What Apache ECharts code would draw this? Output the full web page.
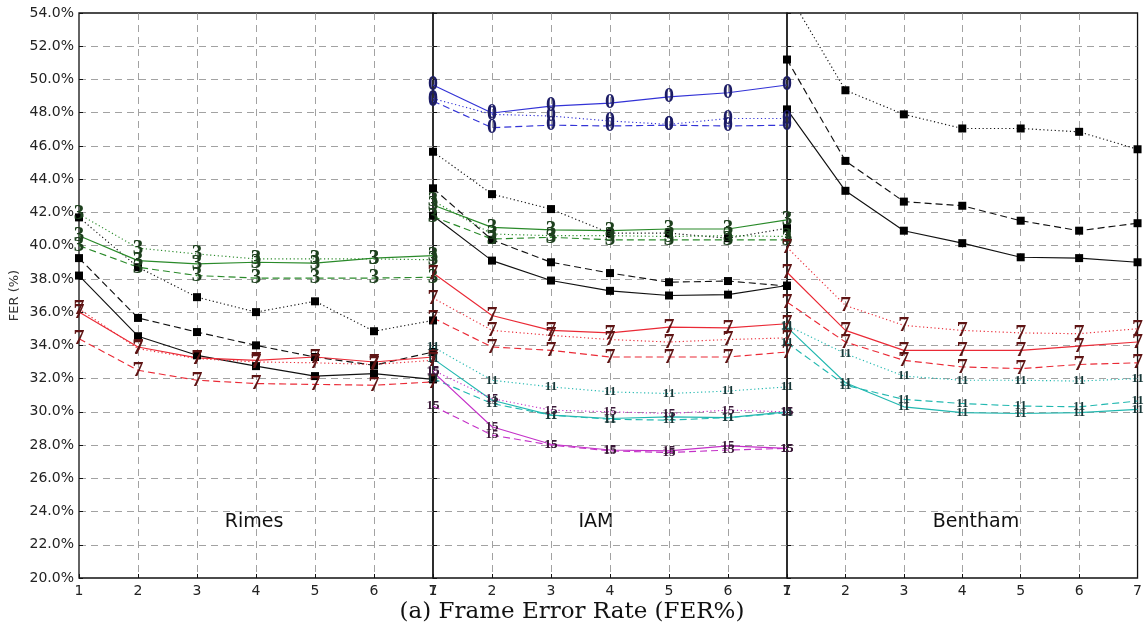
<!DOCTYPE html>
<html>
<head>
<meta charset="utf-8">
<script src="https://cdn.jsdelivr.net/npm/echarts@6/dist/echarts.min.js"></script>
<style>
html,body{margin:0;padding:0;background:#fff;}
#chart{width:1145px;height:637px;}
</style>
</head>
<body>
<div id="chart"></div>
<script>
// ---- data ----
const xValues = [1, 2, 3, 4, 5, 6, 7];
const panelNames = ['Rimes', 'IAM', 'Bentham'];
const yTicks = [20, 54, 2]; // min, max, step (%)
const chartTitle = '(a) Frame Error Rate (FER%)';
const yAxisName = 'FER (%)';

// Rimes
const rimesGreenSolid  = [40.6, 39.1, 38.9, 39.0, 38.95, 39.25, 39.4];
const rimesGreenDotted = [41.9, 39.85, 39.5, 39.2, 39.2, 39.2, 39.15];
const rimesGreenDashed = [40.0, 38.7, 38.2, 38.05, 38.05, 38.05, 38.1];
const rimesBlackSolid  = [38.2, 34.55, 33.4, 32.75, 32.15, 32.3, 31.95];
const rimesBlackDashed = [39.25, 35.65, 34.8, 34.0, 33.3, 32.8, 33.6];
const rimesBlackDotted = [41.7, 38.7, 36.9, 36.0, 36.65, 34.85, 35.5];
const rimesRedSolid    = [36.0, 33.9, 33.25, 33.1, 33.3, 33.0, 33.3];
const rimesRedDotted   = [36.2, 33.8, 33.2, 33.0, 32.95, 32.85, 33.1];
const rimesRedDashed   = [34.4, 32.5, 31.9, 31.7, 31.65, 31.6, 31.8];

// IAM
const iamBlueSolid     = [49.67, 47.98, 48.4, 48.58, 48.95, 49.2, 49.67];
const iamBlueDotted    = [48.85, 47.9, 47.8, 47.5, 47.3, 47.65, 47.65];
const iamBlueDashed    = [48.7, 47.1, 47.25, 47.2, 47.25, 47.2, 47.25];
const iamGreenSolid    = [42.45, 41.1, 40.95, 40.9, 41.0, 41.0, 41.55];
const iamGreenDotted   = [42.7, 40.7, 40.6, 40.6, 40.55, 40.6, 40.55];
const iamGreenDashed   = [41.75, 40.4, 40.5, 40.35, 40.35, 40.35, 40.35];
const iamBlackSolid    = [41.8, 39.1, 37.9, 37.28, 37.0, 37.05, 37.6];
const iamBlackDashed   = [43.45, 40.35, 39.0, 38.35, 37.8, 37.87, 37.57];
const iamBlackDotted   = [45.65, 43.1, 42.2, 40.75, 40.75, 40.45, 41.05];
const iamRedSolid      = [38.35, 35.8, 34.9, 34.75, 35.1, 35.05, 35.3];
const iamRedDotted     = [36.85, 34.9, 34.6, 34.35, 34.2, 34.35, 34.45];
const iamRedDashed     = [35.65, 33.9, 33.7, 33.3, 33.3, 33.3, 33.6];
const iamCyanSolid     = [33.2, 30.7, 29.8, 29.6, 29.7, 29.65, 30.0];
const iamCyanDotted    = [33.9, 31.9, 31.5, 31.2, 31.1, 31.25, 31.5];
const iamCyanDashed    = [32.0, 30.5, 29.8, 29.55, 29.5, 29.65, 29.95];
const iamMagentaSolid  = [32.4, 29.1, 28.05, 27.7, 27.65, 27.95, 27.8];
const iamMagentaDotted = [32.5, 30.8, 30.1, 30.0, 29.9, 30.1, 30.0];
const iamMagentaDashed = [30.35, 28.6, 28.0, 27.65, 27.55, 27.7, 27.8];

// Bentham
const benBlackSolid    = [48.2, 43.3, 40.9, 40.15, 39.3, 39.25, 39.0];
const benBlackDashed   = [51.2, 45.1, 42.65, 42.4, 41.5, 40.9, 41.35];
const benBlackDotted   = [55.3, 49.35, 47.9, 47.05, 47.05, 46.85, 45.8];
const benRedSolid      = [38.4, 34.9, 33.7, 33.7, 33.7, 33.95, 34.2];
const benRedDotted     = [39.9, 36.4, 35.2, 34.9, 34.75, 34.7, 35.0];
const benRedDashed     = [36.6, 34.2, 33.1, 32.7, 32.6, 32.85, 32.95];
const benCyanSolid     = [35.1, 31.75, 30.3, 29.95, 29.9, 29.95, 30.15];
const benCyanDotted    = [35.2, 33.5, 32.15, 31.9, 31.9, 31.85, 32.0];
const benCyanDashed    = [34.15, 31.6, 30.75, 30.5, 30.35, 30.3, 30.65];

// ---- styles ----
const STY = {
  black:   {line: '#111111', marker: 'square', mcol: '#000000', fs: 0},
  green:   {line: '#2a8a2a', marker: '3',  mcol: '#1d401d', fs: 21},
  blue:    {line: '#3333d6', marker: '0',  mcol: '#1c1c66', fs: 20},
  red:     {line: '#ea2a36', marker: '7',  mcol: '#5e1414', fs: 22},
  cyan:    {line: '#22b8b0', marker: '11', mcol: '#173838', fs: 13},
  magenta: {line: '#c431c8', marker: '15', mcol: '#3a1838', fs: 13}
};
const DASH = {solid: 'solid', dashed: [7, 4], dotted: [1.2, 2.6]};

function mk(panel, values, color, dash) {
  const s = STY[color];
  const isSq = s.marker === 'square';
  return {
    type: 'line',
    xAxisIndex: panel, yAxisIndex: panel,
    data: xValues.map((x, i) => [x, values[i]]),
    clip: true,
    symbol: isSq ? 'rect' : 'circle',
    symbolSize: isSq ? 8 : 0.5,
    showSymbol: true,
    itemStyle: {color: isSq ? s.mcol : 'rgba(0,0,0,0)'},
    lineStyle: {color: s.line, width: 1.15, type: DASH[dash]},
    label: isSq ? {show: false} : {
      show: true, position: 'inside', formatter: s.marker,
      fontFamily: 'Liberation Serif', fontWeight: 'bold',
      fontSize: s.fs, color: s.mcol
    },
    emphasis: {disabled: true},
    animation: false
  };
}

const series = [
  mk(0, rimesBlackSolid, 'black', 'solid'),
  mk(0, rimesBlackDashed, 'black', 'dashed'),
  mk(0, rimesBlackDotted, 'black', 'dotted'),
  mk(0, rimesGreenSolid, 'green', 'solid'),
  mk(0, rimesGreenDashed, 'green', 'dashed'),
  mk(0, rimesGreenDotted, 'green', 'dotted'),
  mk(0, rimesRedSolid, 'red', 'solid'),
  mk(0, rimesRedDashed, 'red', 'dashed'),
  mk(0, rimesRedDotted, 'red', 'dotted'),

  mk(1, iamBlueSolid, 'blue', 'solid'),
  mk(1, iamBlueDashed, 'blue', 'dashed'),
  mk(1, iamBlueDotted, 'blue', 'dotted'),
  mk(1, iamBlackSolid, 'black', 'solid'),
  mk(1, iamBlackDashed, 'black', 'dashed'),
  mk(1, iamBlackDotted, 'black', 'dotted'),
  mk(1, iamGreenSolid, 'green', 'solid'),
  mk(1, iamGreenDashed, 'green', 'dashed'),
  mk(1, iamGreenDotted, 'green', 'dotted'),
  mk(1, iamRedSolid, 'red', 'solid'),
  mk(1, iamRedDashed, 'red', 'dashed'),
  mk(1, iamRedDotted, 'red', 'dotted'),
  mk(1, iamCyanSolid, 'cyan', 'solid'),
  mk(1, iamCyanDashed, 'cyan', 'dashed'),
  mk(1, iamCyanDotted, 'cyan', 'dotted'),
  mk(1, iamMagentaSolid, 'magenta', 'solid'),
  mk(1, iamMagentaDashed, 'magenta', 'dashed'),
  mk(1, iamMagentaDotted, 'magenta', 'dotted'),

  mk(2, benBlackSolid, 'black', 'solid'),
  mk(2, benBlackDashed, 'black', 'dashed'),
  mk(2, benBlackDotted, 'black', 'dotted'),
  mk(2, benRedSolid, 'red', 'solid'),
  mk(2, benRedDashed, 'red', 'dashed'),
  mk(2, benRedDotted, 'red', 'dotted'),
  mk(2, benCyanSolid, 'cyan', 'solid'),
  mk(2, benCyanDashed, 'cyan', 'dashed'),
  mk(2, benCyanDotted, 'cyan', 'dotted')
];

const gridLefts = [79, 433, 787];
const gridWidths = [354, 354, 353];
const grids = gridLefts.map((l, i) => ({
  left: l, top: 13, width: gridWidths[i], bottom: 59,
  show: true, borderColor: '#111', borderWidth: 1.3,
  backgroundColor: 'transparent', containLabel: false
}));

const gridLine = {show: true, showMinLine: false, showMaxLine: false,
  lineStyle: {color: '#8a8a8a', width: 0.8, type: [7, 5]}};

const xAxes = [0, 1, 2].map(i => ({
  type: 'value', gridIndex: i, min: xValues[0], max: xValues[xValues.length - 1], interval: 1,
  axisLine: {show: false},
  axisTick: {show: true, inside: true, length: 4, lineStyle: {color: '#111'}},
  axisLabel: {show: true, showMinLabel: true, showMaxLabel: true, margin: 6,
    fontFamily: 'DejaVu Sans', fontSize: 14, color: '#222'},
  splitLine: gridLine
}));

const yAxes = [0, 1, 2].map(i => ({
  type: 'value', gridIndex: i, min: yTicks[0], max: yTicks[1], interval: yTicks[2],
  axisLine: {show: false},
  axisTick: {show: true, inside: true, length: 4, lineStyle: {color: '#111'}},
  axisLabel: {show: i === 0, margin: 5, fontFamily: 'DejaVu Sans', fontSize: 14, color: '#222',
    formatter: v => v.toFixed(1) + '%'},
  splitLine: gridLine,
  name: i === 0 ? yAxisName : '',
  nameLocation: 'middle', nameRotate: 90, nameGap: 58,
  nameTextStyle: {fontFamily: 'DejaVu Sans', fontSize: 13, color: '#333'}
}));

const panelTextX = [254, 596, 976];
const graphic = panelNames.map((n, i) => ({
  type: 'text', x: panelTextX[i], y: 522,
  style: {text: n, fontFamily: 'DejaVu Sans', fontSize: 19, fill: '#111',
    align: 'center', verticalAlign: 'middle'}
}));
graphic.push({
  type: 'text', x: 572, y: 612,
  style: {text: chartTitle, fontFamily: 'DejaVu Serif', fontSize: 23, fill: '#111',
    align: 'center', verticalAlign: 'middle'}
});

const chart = echarts.init(document.getElementById('chart'), null, {renderer: 'canvas'});
chart.setOption({
  animation: false,
  backgroundColor: '#fff',
  grid: grids,
  xAxis: xAxes,
  yAxis: yAxes,
  series: series,
  graphic: graphic
});
</script>
</body>
</html>
